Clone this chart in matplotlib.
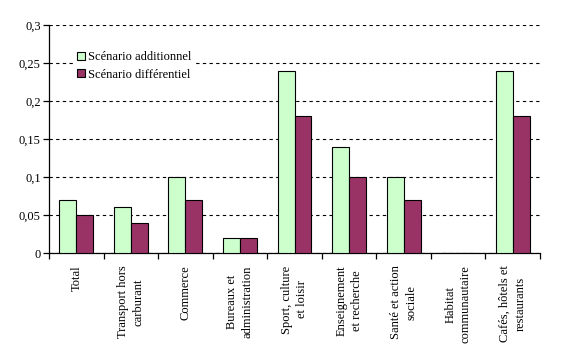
import numpy as np
import matplotlib
matplotlib.use("Agg")
import matplotlib.pyplot as plt
import matplotlib.ticker as ticker

categories = [
    "Total",
    "Transport hors\ncarburant",
    "Commerce",
    "Bureaux et\nadministration",
    "Sport, culture\net loisir",
    "Enseignement\net recherche",
    "Santé et action\nsociale",
    "Habitat\ncommunautaire",
    "Cafés, hôtels et\nrestaurants",
]
additionnel = [0.07, 0.06, 0.10, 0.02, 0.24, 0.14, 0.10, 0.0, 0.24]
differentiel = [0.05, 0.04, 0.07, 0.02, 0.18, 0.10, 0.07, 0.0, 0.18]
series_names = ["Scénario additionnel", "Scénario différentiel"]
y_ticks = [0, 0.05, 0.1, 0.15, 0.2, 0.25, 0.3]
y_labels = ["0", "0,05", "0,1", "0,15", "0,2", "0,25", "0,3"]

plt.rcParams["font.family"] = ["Liberation Serif", "DejaVu Serif"]

fig = plt.figure(figsize=(5.78, 3.55), dpi=100, facecolor="white")
ax = fig.add_axes([49 / 578, 1 - 253 / 355, 491 / 578, 228 / 355])

x = np.arange(len(categories))
w = 0.31
ax.bar(x - w / 2, additionnel, w, color="#CCFFCC", edgecolor="black",
       linewidth=0.8, zorder=3, label=series_names[0])
ax.bar(x + w / 2, differentiel, w, color="#993366", edgecolor="black",
       linewidth=0.8, zorder=3, label=series_names[1])

ax.set_xlim(-0.5, len(categories) - 0.5)
ax.set_ylim(0, 0.3)

# Dashed gridlines, no top/right spines
ax.spines[["top", "right"]].set_visible(False)
ax.spines[["left", "bottom"]].set_linewidth(0.9)
ax.yaxis.grid(True, color="black", linestyle=(0, (3, 3)), linewidth=0.8, zorder=1)
ax.set_axisbelow(True)

ax.set_yticks(y_ticks)
ax.set_yticklabels(y_labels)
ax.tick_params(axis="y", direction="out", length=4, width=0.9, labelsize=9, pad=2)

# Category labels at centres, tick marks on boundaries
ax.set_xticks(x)
ax.set_xticklabels(categories, rotation=90, ha="center", va="top",
                   multialignment="center", fontsize=9, linespacing=1.35)
ax.tick_params(axis="x", which="major", length=0, pad=9)
ax.xaxis.set_minor_locator(ticker.FixedLocator(np.arange(-0.5, len(categories), 1.0)))
ax.tick_params(axis="x", which="minor", direction="out", length=4, width=0.9)

# Legend: white box with no border, hides the gridline behind it
leg = ax.legend(loc="upper left", bbox_to_anchor=(74 / 578, 1 - 48 / 355),
                bbox_transform=fig.transFigure, frameon=True, fontsize=9,
                borderpad=0.25, borderaxespad=0, handlelength=0.6, handleheight=0.6,
                handletextpad=0.3, labelspacing=0.45, fancybox=False)
leg.get_frame().set_facecolor("white")
leg.get_frame().set_edgecolor("none")
leg.get_frame().set_alpha(1)

fig.savefig("out.png", dpi=100, facecolor="white")
